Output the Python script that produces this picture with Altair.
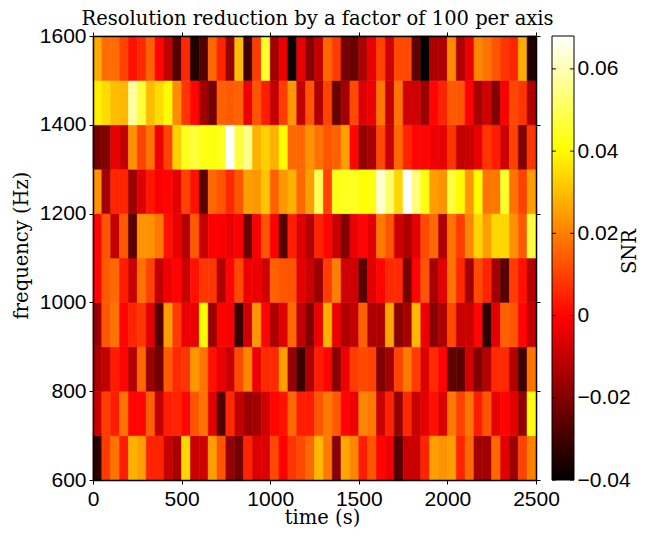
import altair as alt
import pandas as pd

# SNR values in units of 0.001, columns are 50 s wide, rows 100 Hz tall
row_1500 = [27,17,17,10,2,6,15,0,-10,-27,6,-35,-27,16,5,-17,30,-30,9,45,-15,-4,-38,-4,-19,-10,16,9,-22,-24,-13,-4,10,-8,11,11,-25,-40,-13,-13,22,-13,-4,21,18,13,8,5,27,-35]
row_1400 = [38,35,30,29,58,47,30,35,40,22,8,0,-15,-22,15,14,15,-3,13,4,-10,9,24,-10,13,-13,10,-24,-15,11,-6,-3,19,-10,18,-8,-8,-16,0,5,14,13,-1,-14,-8,-20,-1,11,8,-13]
row_1300 = [-22,-20,-4,-10,23,10,18,-3,10,33,44,47,43,42,44,68,47,56,28,33,28,40,16,16,23,18,13,15,25,0,-17,-14,11,-9,16,5,0,0,-3,-4,8,-10,-9,-4,8,4,-8,10,-20,8]
row_1200 = [23,-15,5,5,-16,-6,3,-1,0,-5,10,2,-26,16,13,6,13,25,24,31,15,24,28,16,25,50,10,43,44,44,41,42,63,52,34,68,54,42,25,23,47,40,24,40,18,19,45,18,10,25]
row_1100 = [0,13,-10,14,-26,23,23,19,2,-4,-12,14,-9,-1,-1,-4,-1,-24,-1,13,-1,-27,4,-6,-12,5,0,-9,-20,-4,0,-5,19,13,-8,-13,-5,11,16,-13,18,9,21,34,25,34,34,23,14,47]
row_1000 = [0,14,16,4,-9,18,10,-10,-3,0,-9,2,8,8,-13,0,11,-3,-3,-8,15,13,13,-5,-9,-16,9,20,-8,-8,-26,-5,0,6,6,-22,0,13,-14,-5,18,6,-15,11,5,-15,-27,9,2,-12]
row_900 = [-16,13,18,0,5,8,-5,-27,25,9,-3,-3,40,-16,-1,-1,-31,-8,24,0,-13,-6,16,-10,-20,-3,28,-3,-13,-10,15,-13,-13,26,-19,-14,29,-3,-19,-13,11,-9,-9,0,-33,-5,15,13,0,-10]
row_800 = [-13,-10,4,0,-12,16,-16,-22,14,6,8,24,18,2,-4,-9,11,21,-3,6,6,25,-16,-31,-13,4,0,-19,-3,9,11,10,-20,-15,10,19,9,-6,6,0,-25,-26,-8,-20,-12,6,6,-12,-30,18]
row_700 = [-9,9,4,18,0,0,15,-10,4,5,0,13,18,-5,-27,6,-10,-16,-15,-8,0,2,16,4,4,13,19,14,0,-3,21,19,-9,5,-17,6,-9,-5,2,-6,19,10,18,4,13,-4,0,-5,-17,42]
row_600 = [-33,9,18,4,28,25,5,5,-9,-14,34,-9,-8,25,13,-17,-22,5,-6,-6,11,-1,8,11,16,29,19,-19,26,21,4,13,0,-3,-27,-9,-9,5,25,23,25,5,16,-15,-15,16,-5,-16,10,20]

rows = {600: row_600, 700: row_700, 800: row_800, 900: row_900, 1000: row_1000,
        1100: row_1100, 1200: row_1200, 1300: row_1300, 1400: row_1400, 1500: row_1500}

x_ticks = [0, 500, 1000, 1500, 2000, 2500]
y_ticks = [600, 800, 1000, 1200, 1400, 1600]
cb_ticks = [-0.04, -0.02, 0, 0.02, 0.04, 0.06]
snr_min, snr_max = -0.04, 0.068
hot_domain = [-0.04, -0.0006, 0.0406, 0.068]
hot_range = ["#000000", "#ff0000", "#ffff00", "#ffffff"]

cells = pd.DataFrame(
    [{"t": i * 50, "t2": (i + 1) * 50, "f": f, "f2": f + 100, "snr": v / 1000}
     for f, vals in rows.items() for i, v in enumerate(vals)]
)

SANS = "Liberation Sans"
SERIF = "DejaVu Serif"
TS = 19.5
LS = 21
W, H = 443, 444

xs = alt.Scale(domain=[0, 2500], nice=False, zero=False)
ys = alt.Scale(domain=[600, 1600], nice=False, zero=False)
ax = dict(grid=False, tickSize=4, tickColor="#000000", domainColor="#000000", domainWidth=1.5,
          labelFont=SANS, labelFontSize=LS, labelColor="#000000", labelFlush=False,
          labelOverlap=False, zindex=1, tickWidth=1)
color_scale = alt.Scale(domain=hot_domain, range=hot_range, clamp=True, interpolate="rgb")

heat = alt.Chart(cells).mark_rect(strokeWidth=0.6).encode(
    x=alt.X("t:Q", scale=xs, axis=alt.Axis(values=x_ticks, orient="bottom", labelPadding=4, format="d",
            title="time (s)", titleFont=SERIF, titleFontSize=TS, titleFontWeight="normal", titleColor="#000000",
            titleX=229, titleY=28, **ax)),
    x2="t2:Q",
    y=alt.Y("f:Q", scale=ys, axis=alt.Axis(values=y_ticks, orient="left", labelPadding=3, format="d",
            title="frequency (Hz)", titleFont=SERIF, titleFontSize=TS, titleFontWeight="normal", titleColor="#000000",
            titleX=-62, titleY=209, **ax)),
    y2="f2:Q",
    color=alt.Color("snr:Q", legend=None, scale=color_scale),
    stroke=alt.Stroke("snr:Q", legend=None, scale=color_scale),
)
frame = alt.Chart(cells).mark_rect(opacity=0).encode(
    x=alt.X("t:Q", scale=xs, axis=alt.Axis(values=x_ticks, orient="top", labels=False, title=None, **ax)),
    x2="t2:Q",
    y=alt.Y("f:Q", scale=ys, axis=alt.Axis(values=y_ticks, orient="right", labels=False, title=None, **ax)),
    y2="f2:Q",
)
main = alt.layer(heat, frame).resolve_axis(x="independent", y="independent").properties(
    width=W, height=H,
    title=alt.TitleParams("Resolution reduction by a factor of 100 per axis", font=SERIF, fontSize=TS,
                          fontWeight="normal", color="#000000", anchor="middle", offset=-4.5, dx=3),
)

# colour bar
span = snr_max - snr_min
stops = [alt.GradientStop(offset=(v - snr_min) / span, color=c) for v, c in zip(hot_domain, hot_range)]
cb_df = pd.DataFrame({"a": [0], "b": [1], "lo": [snr_min], "hi": [snr_max]})
tick_df = pd.DataFrame({"v": cb_ticks})
cs = alt.Scale(domain=[snr_min, snr_max], nice=False, zero=False)
ux = alt.Scale(domain=[0, 1], nice=False)

bar = alt.Chart(cb_df).mark_rect(
    color=alt.LinearGradient(gradient="linear", stops=stops, x1=0, x2=0, y1=1, y2=0),
    stroke="#000000", strokeWidth=1,
).encode(
    x=alt.X("a:Q", scale=ux, axis=None), x2="b:Q",
    y=alt.Y("lo:Q", scale=cs, axis=alt.Axis(values=cb_ticks, orient="right", format="~g", grid=False, tickSize=0,
            domain=False, labelFont=SANS, labelFontSize=LS, labelColor="#000000", labelPadding=3,
            labelFlush=False, labelOverlap=False, title="SNR", titleFont=SERIF, titleFontSize=TS,
            titleFontWeight="normal", titleColor="#000000", titleAngle=270, titleX=65, titleY=215)),
    y2="hi:Q",
)
left_t = alt.Chart(tick_df).transform_calculate(a="0", b="0.18").mark_rule(color="#000000", strokeWidth=1).encode(
    x=alt.X("a:Q", scale=ux, axis=None), x2="b:Q", y=alt.Y("v:Q", scale=cs))
right_t = alt.Chart(tick_df).transform_calculate(a="0.82", b="1").mark_rule(color="#000000", strokeWidth=1).encode(
    x=alt.X("a:Q", scale=ux, axis=None), x2="b:Q", y=alt.Y("v:Q", scale=cs))
cbar = alt.layer(bar, left_t, right_t).properties(width=22, height=H)

chart = alt.hconcat(main, cbar, spacing=16, bounds="flush").configure_view(stroke=None).properties(
    padding={"left": 3, "top": 1, "right": 0, "bottom": 0}, background="#ffffff")

chart.save("out.html", embed_options={"renderer": "svg", "actions": False})
